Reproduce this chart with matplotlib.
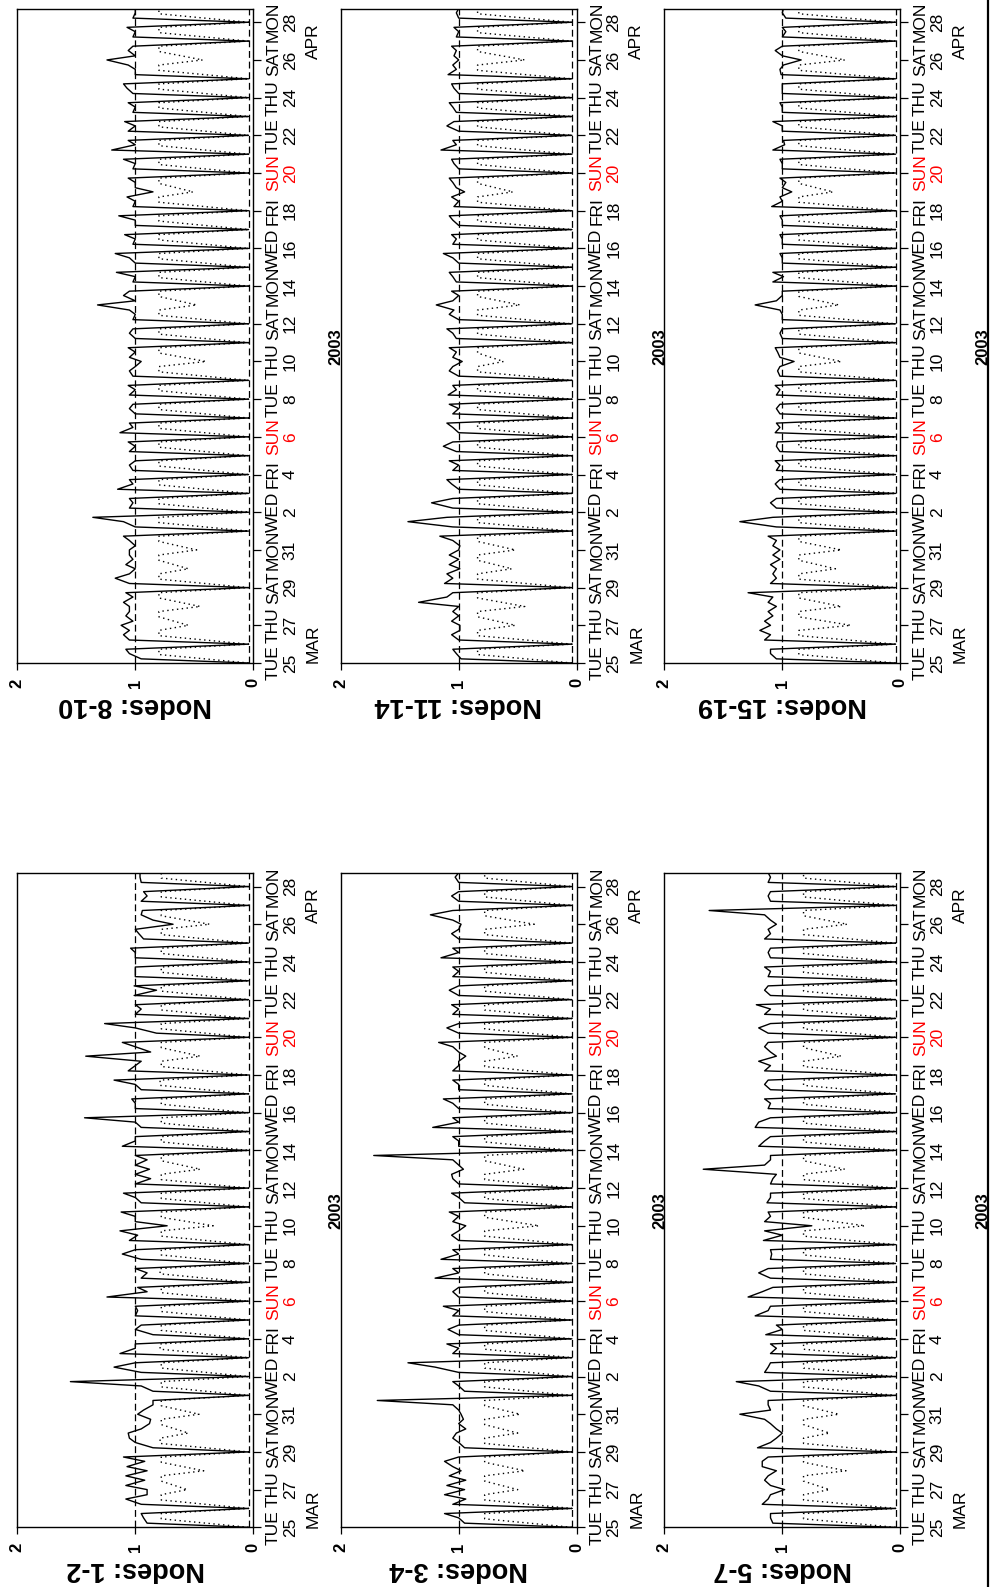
import numpy as np
import matplotlib
matplotlib.use("Agg")
import matplotlib.pyplot as plt
from matplotlib.lines import Line2D

plt.rcParams['font.family'] = ['Liberation Sans', 'DejaVu Sans']

# time axis: days since 2003-03-25 00:00, ticks every 2 days
tick_days = ["TUE", "THU", "SAT", "MON", "WED", "FRI", "SUN", "TUE", "THU",
             "SAT", "MON", "WED", "FRI", "SUN", "TUE", "THU", "SAT", "MON"]
tick_dates = ["25", "27", "29", "31", "2", "4", "6", "8", "10",
              "12", "14", "16", "18", "20", "22", "24", "26", "28"]
month_names = ["MAR", "APR"]
month_at = [1, 33]
year_label = "2003"
t_end = 34.73
floor_level = 0.04

# per day (Mar 25 .. Apr 28): solid line at 00:00, ~05:00, 12:00, ~17:30
# dotted line at 00:00 and its day level
n12_night = [.04, .04, .90, .90, .04, 1.06, .98, .04, .04, .04, .04, .04, .04, .04, .04, .04, .73, .04,
             .04, .88, .04, .04, .04, .04, .04, 1.42, .04, .04, .04, .04, .04, .04, .68, .04, .04]
n12_am = [.90, .95, 1.08, 1.07, .85, .95, .93, .85, .95, 1.13, .85, 1.00, 1.24, .95, .95, 1.05, 1.00, .95,
          1.00, 1.00, 1.11, .95, 1.00, .95, 1.06, .87, .82, 1.00, 1.01, 1.00, 1.00, .93, .85, .95, .95]
n12_mid = [.93, 1.08, .92, .92, 1.00, .88, .85, .95, 1.18, 1.00, 1.00, .98, .90, .90, 1.11, .98, 1.00, 1.00,
           .87, .90, 1.00, 1.00, 1.00, 1.00, 1.00, 1.00, 1.00, .95, .82, 1.00, 1.00, .97, .95, .90, .96]
n12_pm = [.95, .90, 1.08, 1.10, 1.05, .87, .85, 1.55, 1.00, 1.00, .95, 1.00, .98, 1.00, 1.00, 1.13, 1.12, 1.10,
          1.00, 1.00, 1.00, 1.43, 1.03, 1.18, .95, 1.11, 1.26, 1.00, 1.01, 1.00, 1.04, 1.00, .94, .93, .96]
n12_dot_night = [.04, .04, .56, .42, .04, .55, .46, .04, .04, .04, .04, .04, .04, .04, .04, .04, .34, .04,
                 .04, .45, .04, .04, .04, .04, .04, .45, .04, .04, .04, .04, .04, .04, .37, .04, .04]
n12_dot_day = [.78, .78, .78, .78, .79, .78, .78, .78, .78, .79, .78, .78, .78, .79, .78, .78, .78, .78,
               .78, .78, .78, .78, .78, .79, .78, .78, .78, .78, .78, .78, .78, .78, .78, .78, .78]

n34_night = [.04, .04, .95, .98, .04, 1.02, .98, .04, .04, .04, .04, .04, .04, .04, .04, .04, .94, .04,
             .04, .96, .04, .04, .04, .04, .04, .94, .04, .04, .04, .04, .04, .04, .98, .04, .04]
n34_am = [.95, 1.05, 1.10, 1.05, .95, .94, 1.00, .95, 1.00, 1.05, 1.00, 1.05, 1.00, 1.20, 1.15, 1.00, 1.05, .95,
          1.00, 1.00, 1.00, 1.22, 1.00, 1.00, 1.05, 1.00, 1.00, 1.05, 1.00, 1.05, 1.15, 1.00, 1.05, 1.00, 1.00]
n34_mid = [1.00, .94, .94, 1.12, 1.00, 1.00, 1.05, 1.00, 1.20, 1.00, 1.09, 1.00, 1.05, 1.00, 1.00, 1.06, 1.00, 1.00,
           1.05, 1.05, 1.00, 1.00, 1.05, 1.00, 1.00, 1.05, 1.10, 1.00, 1.08, 1.00, 1.00, 1.06, 1.24, 1.06, 1.03]
n34_pm = [1.12, 1.12, 1.08, 1.00, 1.05, .96, 1.69, 1.05, 1.43, 1.10, 1.00, 1.13, 1.00, 1.05, 1.05, 1.00, 1.08, 1.06,
          1.06, 1.72, 1.05, 1.05, 1.13, 1.05, 1.00, 1.17, 1.00, 1.06, 1.00, 1.05, 1.05, 1.00, 1.05, 1.00, 1.00]
n34_dot_night = [.04, .04, .50, .44, .04, .50, .48, .04, .04, .04, .04, .04, .04, .04, .04, .04, .32, .04,
                 .04, .45, .04, .04, .04, .04, .04, .50, .04, .04, .04, .04, .04, .04, .36, .04, .04]
n34_dot_day = [.78, .78, .78, .78, .78, .78, .78, .78, .78, .78, .78, .78, .78, .78, .78, .78, .78, .78,
               .78, .78, .78, .78, .78, .78, .78, .78, .78, .78, .78, .78, .78, .78, .78, .78, .78]

n57_night = [.04, .04, .98, 1.05, .04, 1.00, 1.36, .04, .04, .04, .04, .04, .04, .04, .04, .04, .75, .04,
             .04, 1.67, .04, .04, .04, .04, .04, 1.05, .04, .04, .04, .04, .04, .04, 1.05, .04, .04]
n57_am = [1.08, 1.17, 1.10, 1.17, 1.21, 1.05, 1.10, 1.10, 1.15, 1.10, 1.14, 1.23, 1.29, 1.10, 1.10, 1.16, 1.15, 1.13,
          1.10, 1.15, 1.20, 1.23, 1.12, 1.10, 1.15, 1.10, 1.12, 1.15, 1.10, 1.12, 1.10, 1.15, 1.10, 1.10, 1.12]
n57_mid = [1.10, 1.12, 1.15, 1.17, 1.10, 1.10, 1.12, 1.20, 1.12, 1.05, 1.00, 1.12, 1.17, 1.20, 1.09, 1.00, 1.10, 1.10,
           1.08, 1.10, 1.15, 1.20, 1.10, 1.15, 1.10, 1.15, 1.20, 1.10, 1.15, 1.10, 1.12, 1.10, 1.15, 1.12, 1.10]
n57_pm = [1.10, 1.10, 1.12, 1.12, 1.05, 1.15, 1.12, 1.39, 1.10, 1.10, 1.05, 1.10, 1.08, 1.12, 1.10, 1.15, 1.12, 1.10,
          1.05, 1.10, 1.10, 1.10, 1.15, 1.12, 1.20, 1.12, 1.10, 1.22, 1.12, 1.15, 1.10, 1.12, 1.62, 1.10, 1.12]
n57_dot_night = [.04, .04, .60, .46, .04, .60, .52, .04, .04, .04, .04, .04, .04, .04, .04, .04, .30, .04,
                 .04, .47, .04, .04, .04, .04, .04, .50, .04, .04, .04, .04, .04, .04, .45, .04, .04]
n57_dot_day = [.82, .82, .82, .82, .82, .82, .82, .82, .82, .82, .82, .82, .82, .82, .82, .82, .82, .82,
               .82, .82, .82, .82, .82, .82, .82, .82, .82, .82, .82, .82, .82, .82, .82, .82, .82]

n810_night = [.04, .04, 1.12, 1.05, .04, 1.00, 1.05, .04, .04, .04, .04, .04, .04, .04, .04, .04, .95, .04,
              .04, 1.32, .04, .04, .04, .04, .04, .85, .04, .04, .04, .04, .04, .04, 1.24, .04, .04]
n810_am = [.95, 1.05, 1.02, 1.10, 1.05, 1.08, 1.00, 1.00, 1.05, 1.15, 1.02, 1.05, 1.13, 1.00, 1.05, 1.02, 1.05, 1.00,
           1.02, 1.00, 1.02, 1.00, 1.02, 1.00, 1.02, 1.00, 1.02, 1.20, 1.06, 1.02, 1.02, 1.00, 1.00, 1.02, 1.02]
n810_mid = [1.05, 1.10, 1.08, 1.02, 1.17, 1.02, 1.05, 1.10, 1.02, 1.02, 1.05, 1.00, 1.02, 1.05, 1.00, 1.05, 1.00, 1.05,
            1.00, 1.10, 1.00, 1.05, 1.00, 1.00, 1.00, 1.00, 1.00, 1.00, 1.00, 1.00, 1.07, 1.00, 1.06, 1.00, 1.00]
n810_pm = [1.08, 1.05, 1.05, 1.08, 1.05, 1.05, 1.10, 1.36, 1.05, 1.05, 1.00, 1.06, 1.05, 1.02, 1.06, 1.00, 1.06, 1.02,
           1.05, 1.05, 1.16, 1.17, 1.09, 1.14, 1.07, 1.06, 1.10, 1.06, 1.09, 1.06, 1.10, 1.06, 1.02, 1.07, 1.00]
n810_dot_night = [.04, .04, .55, .45, .04, .55, .48, .04, .04, .04, .04, .04, .04, .04, .04, .04, .40, .04,
                  .04, .48, .04, .04, .04, .04, .04, .51, .04, .04, .04, .04, .04, .04, .43, .04, .04]
n810_dot_day = [.80, .80, .80, .80, .80, .80, .80, .80, .80, .80, .80, .80, .80, .80, .80, .80, .80, .80,
                .80, .80, .80, .80, .80, .80, .80, .80, .80, .80, .80, .80, .80, .80, .80, .80, .80]

n1114_night = [.04, .04, .99, 1.00, .04, .99, 1.00, .04, .04, .04, .04, .04, .04, .04, .04, .04, .97, .04,
               .04, 1.19, .04, .04, .04, .04, .04, .95, .04, .04, .04, .04, .04, .04, 1.00, .04, .04]
n1114_am = [.98, 1.00, 1.06, 1.34, 1.12, 1.08, .99, 1.05, 1.05, 1.00, 1.05, 1.02, 1.00, 1.05, 1.09, 1.00, 1.05, 1.02,
            1.00, 1.05, 1.02, 1.00, 1.05, 1.00, 1.04, 1.02, 1.00, 1.15, 1.00, 1.02, 1.00, 1.09, 1.04, 1.02, 1.00]
n1114_mid = [1.02, 1.06, 1.00, 1.10, 1.05, 1.00, 1.05, 1.43, 1.23, 1.06, 1.00, 1.13, 1.05, 1.00, 1.02, 1.08, 1.02, 1.05,
             1.08, 1.00, 1.05, 1.05, 1.02, 1.05, 1.00, 1.05, 1.04, 1.02, 1.10, 1.05, 1.04, 1.02, 1.02, 1.00, 1.02]
n1114_pm = [1.05, .99, 1.05, 1.05, 1.10, 1.08, 1.16, 1.10, 1.05, 1.10, 1.08, 1.05, 1.10, 1.08, 1.05, 1.05, 1.08, 1.10,
            1.04, 1.06, 1.08, 1.13, 1.06, 1.08, 1.06, 1.08, 1.06, 1.05, 1.04, 1.08, 1.06, 1.05, 1.06, 1.04, 1.00]
n1114_dot_night = [.04, .04, .52, .44, .04, .55, .52, .04, .04, .04, .04, .04, .04, .04, .04, .04, .62, .04,
                   .04, .48, .04, .04, .04, .04, .04, .54, .04, .04, .04, .04, .04, .04, .44, .04, .04]
n1114_dot_day = [.84, .84, .84, .84, .84, .84, .84, .84, .84, .84, .84, .84, .84, .84, .84, .84, .84, .84,
                 .84, .84, .84, .84, .84, .84, .84, .84, .84, .84, .84, .84, .84, .84, .84, .84, .84]

n1519_night = [.04, .04, 1.10, 1.05, .04, 1.05, 1.02, .04, .04, .04, .04, .04, .04, .04, .04, .04, .90, .04,
               .04, 1.23, .04, .04, .04, .04, .04, .92, .04, .04, .04, .04, .04, .04, .84, .04, .04]
n1519_am = [1.05, 1.15, 1.15, 1.12, 1.10, 1.10, 1.08, 1.05, 1.05, 1.02, 1.05, 1.02, 1.06, 1.02, 1.05, 1.02, 1.02, 1.00,
            1.00, 1.05, 1.08, 1.00, 1.00, 1.00, 1.09, 1.00, 1.00, 1.08, 1.00, 1.00, 1.00, 1.01, 1.00, 1.00, .97]
n1519_mid = [1.10, 1.10, 1.08, 1.08, 1.05, 1.02, 1.05, 1.36, 1.10, 1.06, 1.02, 1.05, 1.02, 1.05, 1.02, 1.04, 1.04, 1.02,
             1.00, 1.00, .99, 1.00, 1.00, 1.00, 1.00, .97, 1.00, .98, 1.00, 1.00, 1.00, 1.02, 1.06, .97, 1.00]
n1519_pm = [1.10, 1.19, 1.12, 1.29, 1.08, 1.08, 1.12, 1.08, 1.05, 1.02, 1.06, 1.04, 1.05, 1.02, 1.06, 1.02, 1.06, 1.00,
            1.02, 1.00, 1.08, 1.02, 1.02, 1.02, 1.02, 1.02, 1.02, .99, 1.08, 1.02, 1.00, .99, 1.00, 1.00, .99]
n1519_dot_night = [.04, .04, .42, .50, .04, .55, .50, .04, .04, .04, .04, .04, .04, .04, .04, .04, .50, .04,
                   .04, .52, .04, .04, .04, .04, .04, .57, .04, .04, .04, .04, .04, .04, .47, .04, .04]
n1519_dot_day = [.86, .86, .86, .86, .86, .86, .86, .86, .86, .86, .86, .86, .86, .86, .86, .86, .86, .86,
                 .86, .86, .86, .86, .86, .86, .86, .86, .86, .86, .86, .86, .86, .86, .86, .86, .86]

panels = [
    ("Nodes: 8-10", 0, 0, [n810_night, n810_am, n810_mid, n810_pm], [n810_dot_night, n810_dot_day, n810_dot_day]),
    ("Nodes: 11-14", 1, 0, [n1114_night, n1114_am, n1114_mid, n1114_pm], [n1114_dot_night, n1114_dot_day, n1114_dot_day]),
    ("Nodes: 15-19", 2, 0, [n1519_night, n1519_am, n1519_mid, n1519_pm], [n1519_dot_night, n1519_dot_day, n1519_dot_day]),
    ("Nodes: 1-2", 0, 1, [n12_night, n12_am, n12_mid, n12_pm], [n12_dot_night, n12_dot_day, n12_dot_day]),
    ("Nodes: 3-4", 1, 1, [n34_night, n34_am, n34_mid, n34_pm], [n34_dot_night, n34_dot_day, n34_dot_day]),
    ("Nodes: 5-7", 2, 1, [n57_night, n57_am, n57_mid, n57_pm], [n57_dot_night, n57_dot_day, n57_dot_day]),
]

solid_hours = [0.0, 0.22, 0.5, 0.73]
dotted_hours = [0.0, 0.45, 0.73]


def day_series(hours, columns):
    t, v = [], []
    for d in range(len(columns[0])):
        for h, col in zip(hours, columns):
            t.append(d + h)
            v.append(col[d])
    return np.array(t), np.array(v)


W, H = 997, 1587
fig = plt.figure(figsize=(W / 100, H / 100), dpi=100)

col_left = [17.3, 340.7, 664.3]
row_top = [8.5, 872.8]
pw, ph = 236.0, 654.5

for name, col, row, solid_cols, dot_cols in panels:
    x0, y0 = col_left[col], row_top[row]
    ax = fig.add_axes([x0 / W, 1 - (y0 + ph) / H, pw / W, ph / H])

    ts, vs = day_series(solid_hours, solid_cols)
    td, vd = day_series(dotted_hours, dot_cols)
    ax.plot(vs, ts, color="black", lw=1.0)
    ax.plot(vd, td, color="black", lw=1.0, ls=(0, (1, 2.5)))
    ax.axvline(1, color="black", lw=0.9, ls=(0, (5.5, 3)))
    ax.axvline(floor_level, color="black", lw=0.9, ls=(0, (5.5, 3)))

    ax.set_xlim(2, 0)
    ax.set_ylim(0, t_end)
    for s in ax.spines.values():
        s.set_linewidth(1.0)

    ax.set_xticks([0, 1, 2])
    ax.set_xticklabels(["0", "1", "2"], rotation=90, fontweight="bold", fontsize=12)
    ax.tick_params(axis="x", direction="out", length=5, width=0.9, pad=6)

    ticks = np.arange(0, 35, 2)
    ax.yaxis.set_ticks_position("right")
    ax.set_yticks(ticks)
    ax.set_yticklabels([])
    ax.tick_params(axis="y", direction="out", length=6, width=0.9)

    tr = ax.get_yaxis_transform()
    for tk, dname, dnum in zip(ticks, tick_days, tick_dates):
        c = "red" if dname == "SUN" else "black"
        ax.text(1 + 20 / pw, tk, dname, transform=tr, rotation=90, ha="center", va="center",
                fontsize=12.5, color=c)
        ax.text(1 + 37 / pw, tk, dnum, transform=tr, rotation=90, ha="center", va="center",
                fontsize=12.5, color=c)
    for mt, mname in zip(month_at, month_names):
        ax.text(1 + 60 / pw, mt, mname, transform=tr, rotation=90, ha="center", va="center",
                fontsize=12.5)
    ax.text(1 + 83 / pw, 16.8, year_label, transform=tr, rotation=90, ha="center", va="center",
            fontsize=12, fontweight="bold")

    ax.text(0.5, -42 / ph, name, transform=ax.transAxes, rotation=180, ha="center", va="center",
            fontsize=19.5, fontweight="bold")

fig.add_artist(Line2D([988 / W, 988 / W], [0, 1], color="black", lw=1.6))

fig.savefig("out.png", dpi=100)
